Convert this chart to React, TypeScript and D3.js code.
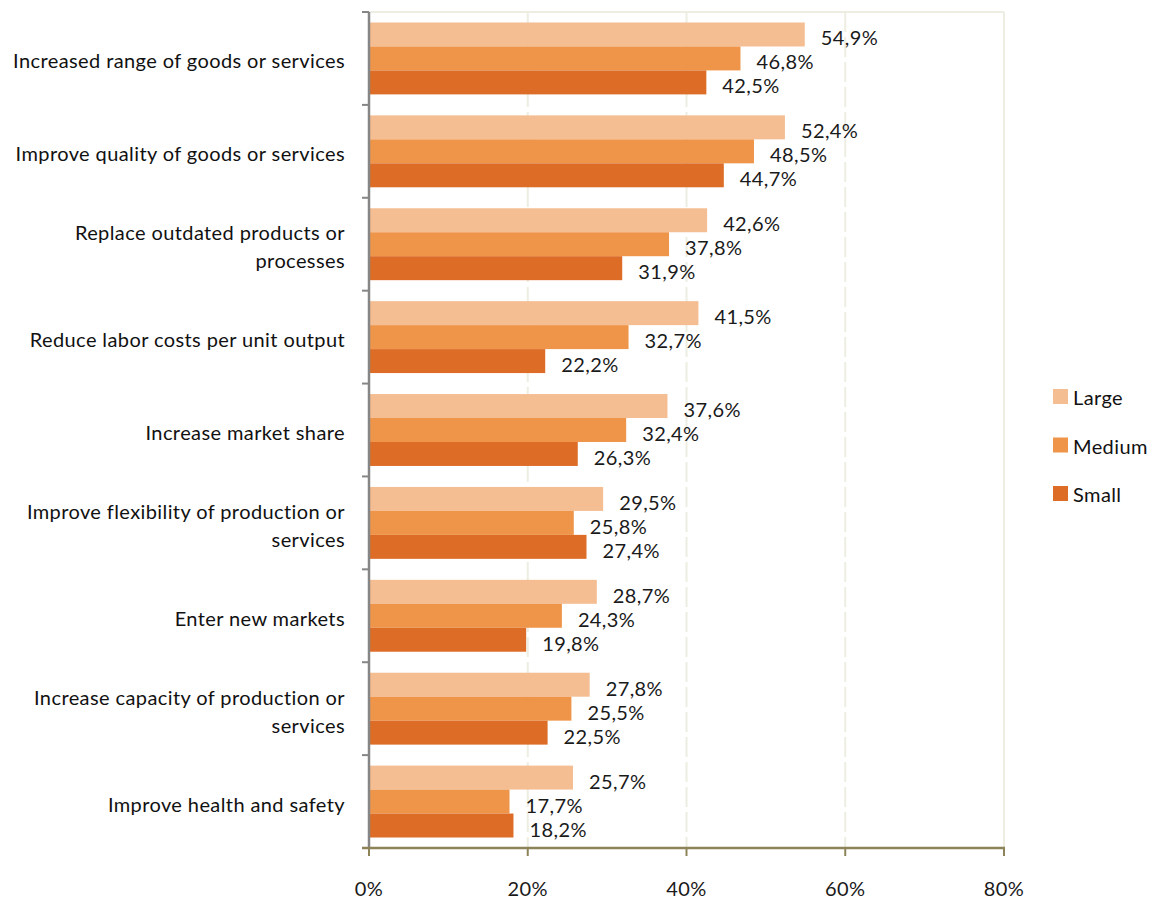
import React from "react";
import * as d3 from "d3";

const categories: string[][] = [
  ["Increased range of goods or services"],
  ["Improve quality of goods or services"],
  ["Replace outdated products or", "processes"],
  ["Reduce labor costs per unit output"],
  ["Increase market share"],
  ["Improve flexibility of production or", "services"],
  ["Enter new markets"],
  ["Increase capacity of production or", "services"],
  ["Improve health and safety"],
];
const seriesNames = ["Large", "Medium", "Small"];
const large = [54.9, 52.4, 42.6, 41.5, 37.6, 29.5, 28.7, 27.8, 25.7];
const medium = [46.8, 48.5, 37.8, 32.7, 32.4, 25.8, 24.3, 25.5, 17.7];
const small = [42.5, 44.7, 31.9, 22.2, 26.3, 27.4, 19.8, 22.5, 18.2];
const xTicks = [0, 20, 40, 60, 80];
const colors = ["#F4BD92", "#EE954A", "#DC6C26"];

const W = 1158;
const H = 903;
const left = 369;
const right = 1004;
const top = 12;
const bottom = 848;
const FONT = "Lato, 'Open Sans', sans-serif";
const FS = 20;
const LS = 0.4;

export default function App() {
  const series = [large, medium, small];
  const x = d3.scaleLinear().domain([0, 80]).range([left, right]);
  const idx = categories.map((_, i) => String(i));
  const y = d3.scaleBand().domain(idx).range([top, bottom]).paddingInner(0.226).paddingOuter(0.113);
  const inner = d3.scaleBand().domain(["0", "1", "2"]).range([0, y.bandwidth()]);
  const step = y.step();
  const fmt = (v: number) => v.toFixed(1).replace(".", ",") + "%";

  return (
    <svg width={W} height={H} style={{ position: "absolute", left: 0, top: 0, background: "#fff" }} fontFamily={FONT} letterSpacing={LS}>
      {/* plot border */}
      <line x1={left} x2={right} y1={top} y2={top} stroke="#EDEDE2" strokeWidth={2} />
      <line x1={right} x2={right} y1={top} y2={bottom} stroke="#EDEDE2" strokeWidth={2} />
      {/* gridlines */}
      {xTicks.slice(1, -1).map((t) => (
        <line key={t} x1={x(t)} x2={x(t)} y1={top} y2={bottom} stroke="#EDEDE2" strokeWidth={2} strokeDasharray="20,5" />
      ))}
      {/* bars */}
      {series.map((vals, s) =>
        vals.map((v, i) => (
          <rect
            key={s + "-" + i}
            x={x(0)}
            y={(y(String(i)) as number) + (inner(String(s)) as number)}
            width={x(v) - x(0)}
            height={inner.bandwidth()}
            fill={colors[s]}
          />
        ))
      )}
      {/* value labels */}
      {series.map((vals, s) =>
        vals.map((v, i) => (
          <text
            key={"l" + s + "-" + i}
            x={x(v) + 16}
            y={(y(String(i)) as number) + (inner(String(s)) as number) + inner.bandwidth() / 2 + 3}
            dominantBaseline="central"
            fontSize={FS}
            fill="#1a1a1a"
          >
            {fmt(v)}
          </text>
        ))
      )}
      {/* left axis */}
      <line x1={left} x2={left} y1={top} y2={bottom} stroke="#868686" strokeWidth={2.5} />
      {d3.range(categories.length + 1).map((k) => (
        <line key={"yt" + k} x1={362} x2={left} y1={top + k * step} y2={top + k * step} stroke="#868686" strokeWidth={2} />
      ))}
      {/* bottom axis */}
      <line x1={362} x2={right + 1} y1={bottom} y2={bottom} stroke="#8C8458" strokeWidth={2.5} />
      {xTicks.map((t) => (
        <line key={"xt" + t} x1={x(t)} x2={x(t)} y1={bottom} y2={bottom + 8} stroke="#8C8458" strokeWidth={2} />
      ))}
      {xTicks.map((t) => (
        <text key={"xl" + t} x={x(t)} y={888} textAnchor="middle" dominantBaseline="central" fontSize={FS} fill="#1a1a1a">
          {t + "%"}
        </text>
      ))}
      {/* category labels */}
      {categories.map((lines, i) => {
        const cy = top + (i + 0.5) * step + 2;
        return (
          <text key={"c" + i} x={345} textAnchor="end" fontSize={FS} fill="#111">
            {lines.map((ln, j) => (
              <tspan key={j} x={345} y={cy + (j - (lines.length - 1) / 2) * 28} dominantBaseline="central">
                {ln}
              </tspan>
            ))}
          </text>
        );
      })}
      {/* legend */}
      {seriesNames.map((n, s) => (
        <g key={n} transform={`translate(1053, ${389 + s * 48.5})`}>
          <rect width={15} height={15} fill={colors[s]} />
          <text x={20} y={8} dominantBaseline="central" fontSize={FS} fill="#111">
            {n}
          </text>
        </g>
      ))}
    </svg>
  );
}
